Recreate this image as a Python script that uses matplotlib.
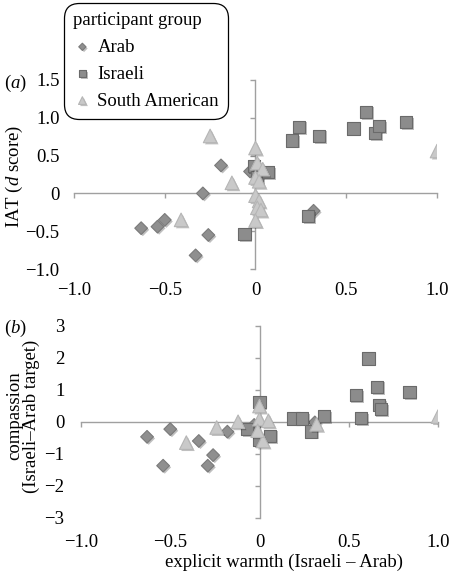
import matplotlib.pyplot as plt
import matplotlib.patheffects as pe

plt.rcParams['font.family'] = ['Liberation Serif', 'DejaVu Serif']
plt.rcParams['mathtext.fontset'] = 'custom'
plt.rcParams['mathtext.rm'] = 'Liberation Serif'
plt.rcParams['mathtext.it'] = 'Liberation Serif:italic'

FS = 13.5

# panel (a): explicit warmth vs IAT
arab_warmth_a = [-0.63, -0.54, -0.50, -0.33, -0.29, -0.26, -0.19, -0.03, 0.32]
arab_iat = [-0.46, -0.44, -0.35, -0.82, 0.0, -0.55, 0.37, 0.29, -0.23]
isr_warmth_a = [-0.06, -0.01, 0.01, 0.07, 0.20, 0.24, 0.29, 0.35, 0.54, 0.61, 0.66, 0.68, 0.83]
isr_iat = [-0.54, 0.36, 0.22, 0.28, 0.70, 0.88, -0.30, 0.76, 0.86, 1.08, 0.80, 0.89, 0.94]
sa_warmth_a = [-0.41, -0.25, -0.13, 0.0, 0.01, 0.04, 0.0, 0.02, 0.0, 0.02, 0.01, 0.03, 0.0, 1.0]
sa_iat = [-0.35, 0.76, 0.14, 0.60, 0.40, 0.32, 0.21, 0.16, -0.03, -0.10, -0.19, -0.22, -0.36, 0.56]

# panel (b): explicit warmth vs compassion
arab_warmth_b = [-0.63, -0.54, -0.50, -0.34, -0.29, -0.26, -0.18, -0.03, 0.31]
arab_comp = [-0.47, -1.37, -0.23, -0.60, -1.37, -1.04, -0.31, -0.10, -0.02]
isr_warmth_b = [-0.07, 0.0, 0.0, 0.06, 0.19, 0.24, 0.29, 0.36, 0.54, 0.57, 0.61, 0.66, 0.67, 0.68, 0.84]
isr_comp = [-0.23, 0.62, -0.56, -0.44, 0.10, 0.10, -0.30, 0.18, 0.83, 0.11, 1.97, 1.09, 0.52, 0.39, 0.93]
sa_warmth_b = [-0.41, -0.24, -0.12, 0.0, 0.0, 0.05, 0.02, -0.01, 0.32, 1.0]
sa_comp = [-0.65, -0.18, 0.0, 0.49, 0.08, 0.03, -0.60, -0.28, -0.08, 0.16]

groups = ['Arab', 'Israeli', 'South American']
markers = ['D', 's', '^']
sizes = [42, 78, 95]
faces = ['#8f8f8f', '#8c8c8c', '#c9c9c9']
edges = ['#7a7a7a', '#6a6a6a', '#b5b5b5']
shadow = [pe.SimplePatchShadow(offset=(1.2, -1.2), shadow_rgbFace='k', alpha=0.25), pe.Normal()]

fig = plt.figure(figsize=(4.5, 5.78), dpi=100)
ax_a = fig.add_axes([74 / 450, 1 - 269 / 578, 363 / 450, 189 / 578])
ax_b = fig.add_axes([81 / 450, 1 - 518 / 578, 357 / 450, 192.5 / 578])


def style(ax, xlim, ylim, yticks, yfmt, ypad, xpad):
    ax.set_xlim(*xlim)
    ax.set_ylim(*ylim)
    ax.patch.set_visible(False)
    for s in ['top', 'right']:
        ax.spines[s].set_visible(False)
    for s in ['left', 'bottom']:
        ax.spines[s].set_position(('data', 0))
        ax.spines[s].set_color('#a0a0a0')
        ax.spines[s].set_linewidth(1.0)
    xticks = [-1.0, -0.5, 0, 0.5, 1.0]
    ax.set_xticks(xticks)
    ax.set_yticks(yticks)
    ax.tick_params(direction='out', length=3.5, width=1.0, color='#a0a0a0',
                   labelleft=False, labelbottom=False)
    sx = ax.secondary_xaxis('bottom')
    sx.set_xticks(xticks)
    sx.set_xticklabels(['\u22121.0', '\u22120.5', '0', '0.5', '1.0'])
    sx.spines['bottom'].set_visible(False)
    sx.tick_params(length=0, pad=xpad, labelsize=FS)
    sy = ax.secondary_yaxis('left')
    sy.set_yticks(yticks)
    sy.set_yticklabels([yfmt(v) for v in yticks])
    sy.spines['left'].set_visible(False)
    sy.tick_params(length=0, pad=ypad, labelsize=FS)


def fmt_a(v):
    if v == 0:
        return '0'
    return ('%.1f' % v).replace('-', '\u2212')


def fmt_b(v):
    return ('%d' % v).replace('-', '\u2212')


style(ax_a, (-1, 1), (-1, 1.5), [-1.0, -0.5, 0, 0.5, 1.0, 1.5], fmt_a, 10.5, 9.5)
style(ax_b, (-1, 1), (-3, 3), [-3, -2, -1, 0, 1, 2, 3], fmt_b, 12, 11.5)

data_a = [(arab_warmth_a, arab_iat), (isr_warmth_a, isr_iat), (sa_warmth_a, sa_iat)]
data_b = [(arab_warmth_b, arab_comp), (isr_warmth_b, isr_comp), (sa_warmth_b, sa_comp)]
handles = []
for i, g in enumerate(groups):
    h = ax_a.scatter(data_a[i][0], data_a[i][1], marker=markers[i], s=sizes[i],
                     facecolor=faces[i], edgecolor=edges[i], linewidth=0.8,
                     label=g, zorder=3, path_effects=shadow)
    ax_b.scatter(data_b[i][0], data_b[i][1], marker=markers[i], s=sizes[i],
                 facecolor=faces[i], edgecolor=edges[i], linewidth=0.8,
                 zorder=3, path_effects=shadow)
    handles.append(h)

fig.text(14 / 450, 1 - 176 / 578, 'IAT ($d$ score)', rotation=90, fontsize=FS,
         ha='center', va='center')
fig.text(23.5 / 450, 1 - 416 / 578, 'compassion\n(Israeli\u2013Arab target)', rotation=90,
         fontsize=FS, ha='center', va='center', linespacing=0.95)
fig.text(284 / 450, 1 - 562 / 578, 'explicit warmth (Israeli \u2013 Arab)', fontsize=FS,
         ha='center', va='center')
fig.text(4 / 450, 1 - 83 / 578, '($a$)', fontsize=FS, ha='left', va='center')
fig.text(4 / 450, 1 - 328 / 578, '($b$)', fontsize=FS, ha='left', va='center')

leg = fig.legend(handles=handles, title='participant group', loc='upper left',
                 bbox_to_anchor=(64 / 450, 1 - 2.5 / 578), borderaxespad=0,
                 fontsize=FS, title_fontsize=FS, alignment='left', markerscale=0.57,
                 handletextpad=0.32, handlelength=0.96, labelspacing=0.52,
                 borderpad=0.5, fancybox=True, framealpha=1, edgecolor='black')
leg.get_frame().set_linewidth(0.9)
leg.get_frame().set_boxstyle('round', pad=0, rounding_size=0.8)

fig.savefig('out.png', dpi=100)
